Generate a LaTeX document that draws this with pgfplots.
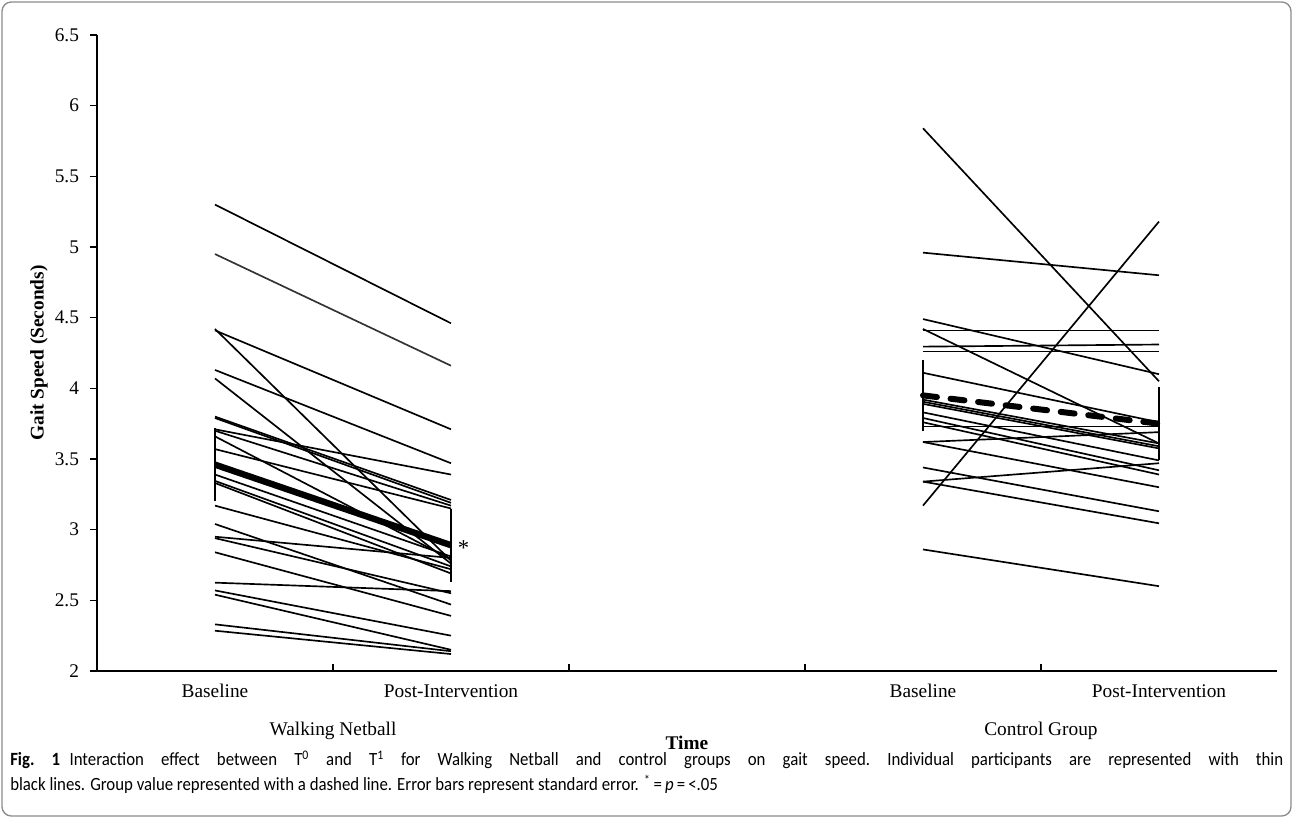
\documentclass[border=0pt]{standalone}
\usepackage{pgfplots}
\pgfplotsset{compat=1.18}
\usepackage{fontspec}
\setmainfont{Liberation Serif}
\newfontfamily\capfont[FakeStretch=0.9]{Carlito}
\begin{document}
\begin{tikzpicture}
\pgfplotsset{ind/.style={black, line width=1.25pt, no markers, forget plot}}
\begin{axis}[
  at={(72.75pt,110.25pt)}, anchor=south west,
  scale only axis, width=885pt, height=477pt,
  xmin=-0.5, xmax=4.5, ymin=2, ymax=6.5,
  axis lines=left, axis line style={line width=1.4pt, -},
  tick align=outside, major tick length=5pt,
  tick style={black, line width=1pt},
  xtick style={yshift=5pt},
  ytick={2,2.5,3,3.5,4,4.5,5,5.5,6,6.5},
  /pgf/number format/assume math mode=true,
  tick label style={font=\fontsize{14.5}{17}\selectfont},
  yticklabel style={xshift=-5pt},
  xtick={0.5,1.5,2.5,3.5},
  xticklabels={{\mbox{}\\[17pt]Walking Netball},{},{},{\mbox{}\\[17pt]Control Group}},
  xticklabel style={align=center, yshift=-6pt},
  extra x ticks={0,1,3,4},
  extra x tick labels={Baseline,Post-Intervention,Baseline,Post-Intervention},
  extra x tick style={major tick length=0pt, tick label style={text height=10.5pt, text depth=3pt}},
  ylabel={Gait Speed (Seconds)},
  xlabel={Time},
  every axis y label/.style={at={(axis description cs:-0.0492,0.5)}, rotate=90, anchor=center, font=\bfseries\fontsize{14.5}{17}\selectfont},
  every axis x label/.style={at={(axis description cs:0.5,-0.1135)}, anchor=center, font=\bfseries\fontsize{14.5}{17}\selectfont},
  clip=false,
]
% Walking Netball individuals
\addplot[ind] coordinates {(0,5.30) (1,4.46)};
\addplot[ind, black!80] coordinates {(0,4.95) (1,4.16)};
\addplot[ind] coordinates {(0,4.41) (1,3.71)};
\addplot[ind] coordinates {(0,4.42) (1,2.78)};
\addplot[ind] coordinates {(0,4.13) (1,3.47)};
\addplot[ind] coordinates {(0,4.07) (1,2.76)};
\addplot[ind] coordinates {(0,3.80) (1,3.21)};
\addplot[ind] coordinates {(0,3.79) (1,3.19)};
\addplot[ind] coordinates {(0,3.71) (1,3.39)};
\addplot[ind] coordinates {(0,3.70) (1,3.17)};
\addplot[ind] coordinates {(0,3.66) (1,2.79)};
\addplot[ind] coordinates {(0,3.57) (1,3.15)};
\addplot[ind] coordinates {(0,3.39) (1,2.81)};
\addplot[ind] coordinates {(0,3.345) (1,2.74)};
\addplot[ind] coordinates {(0,3.33) (1,2.69)};
\addplot[ind] coordinates {(0,3.17) (1,2.72)};
\addplot[ind] coordinates {(0,3.04) (1,2.47)};
\addplot[ind] coordinates {(0,2.95) (1,2.80)};
\addplot[ind] coordinates {(0,2.94) (1,2.55)};
\addplot[ind] coordinates {(0,2.84) (1,2.39)};
\addplot[ind] coordinates {(0,2.625) (1,2.565)};
\addplot[ind] coordinates {(0,2.57) (1,2.25)};
\addplot[ind] coordinates {(0,2.54) (1,2.15)};
\addplot[ind] coordinates {(0,2.33) (1,2.14)};
\addplot[ind] coordinates {(0,2.285) (1,2.12)};
% Control individuals
\addplot[ind] coordinates {(3,5.84) (4,4.05)};
\addplot[ind] coordinates {(3,4.96) (4,4.80)};
\addplot[ind] coordinates {(3,4.49) (4,4.10)};
\addplot[ind] coordinates {(3,4.42) (4,3.61)};
\addplot[ind] coordinates {(3,4.41) (4,4.41)};
\addplot[ind] coordinates {(3,4.295) (4,4.31)};
\addplot[ind] coordinates {(3,4.26) (4,4.26)};
\addplot[ind] coordinates {(3,3.17) (4,5.18)};
\addplot[ind] coordinates {(3,4.11) (4,3.76)};
\addplot[ind] coordinates {(3,3.92) (4,3.61)};
\addplot[ind] coordinates {(3,3.905) (4,3.59)};
\addplot[ind] coordinates {(3,3.89) (4,3.575)};
\addplot[ind] coordinates {(3,3.83) (4,3.49)};
\addplot[ind] coordinates {(3,3.79) (4,3.42)};
\addplot[ind] coordinates {(3,3.76) (4,3.39)};
\addplot[ind] coordinates {(3,3.73) (4,3.73)};
\addplot[ind] coordinates {(3,3.62) (4,3.69)};
\addplot[ind] coordinates {(3,3.62) (4,3.30)};
\addplot[ind] coordinates {(3,3.44) (4,3.13)};
\addplot[ind] coordinates {(3,3.34) (4,3.045)};
\addplot[ind] coordinates {(3,3.34) (4,3.47)};
\addplot[ind] coordinates {(3,2.86) (4,2.60)};
% Group means with standard error
\addplot[black, line width=4.8pt, no markers, forget plot,
  error bars/.cd, y dir=both, y explicit, error mark=-,
  error bar style={solid, line width=0.8pt},
  error mark options={solid, black, mark size=3pt, line width=0.8pt}]
  coordinates {(0,3.46) +- (0,0.23) (1,2.89) +- (0,0.23)};
\addplot[black, line width=4.5pt, line cap=round, dash pattern=on 10.5pt off 10.3pt, no markers, forget plot,
  error bars/.cd, y dir=both, y explicit, error mark=-,
  error bar style={solid, line width=0.8pt},
  error mark options={solid, black, mark size=3pt, line width=0.8pt}]
  coordinates {(3,3.95) +- (0,0.225) (4,3.75) +- (0,0.23)};
\node[anchor=west, inner sep=0pt, xshift=5pt, yshift=-2pt, font=\fontsize{17}{19}\selectfont] at (axis cs:1,2.89) {*};
\end{axis}
\node[anchor=base west, inner sep=0pt, font=\capfont\fontsize{14}{16}\selectfont\frenchspacing] at (7.5pt,39pt)
  {\makebox[954.75pt][s]{\textbf{Fig.~1}\enspace Interaction effect between T\textsuperscript{0} and T\textsuperscript{1} for Walking Netball and control groups on gait speed. Individual participants are represented with thin}};
\node[anchor=base west, inner sep=0pt, font=\capfont\fontsize{14}{16}\selectfont] at (7.5pt,20.25pt)
  {black lines. Group value represented with a dashed line. Error bars represent standard error. \textsuperscript{*}\,=\,\textit{p}\,=\,<.05};
\draw[black!45, line width=1pt, rounded corners=7pt] (1.5pt,1.5pt) rectangle (968.25pt,612pt);
\pgfresetboundingbox
\useasboundingbox (0,0) rectangle (969.75pt,613.5pt);
\end{tikzpicture}
\end{document}
